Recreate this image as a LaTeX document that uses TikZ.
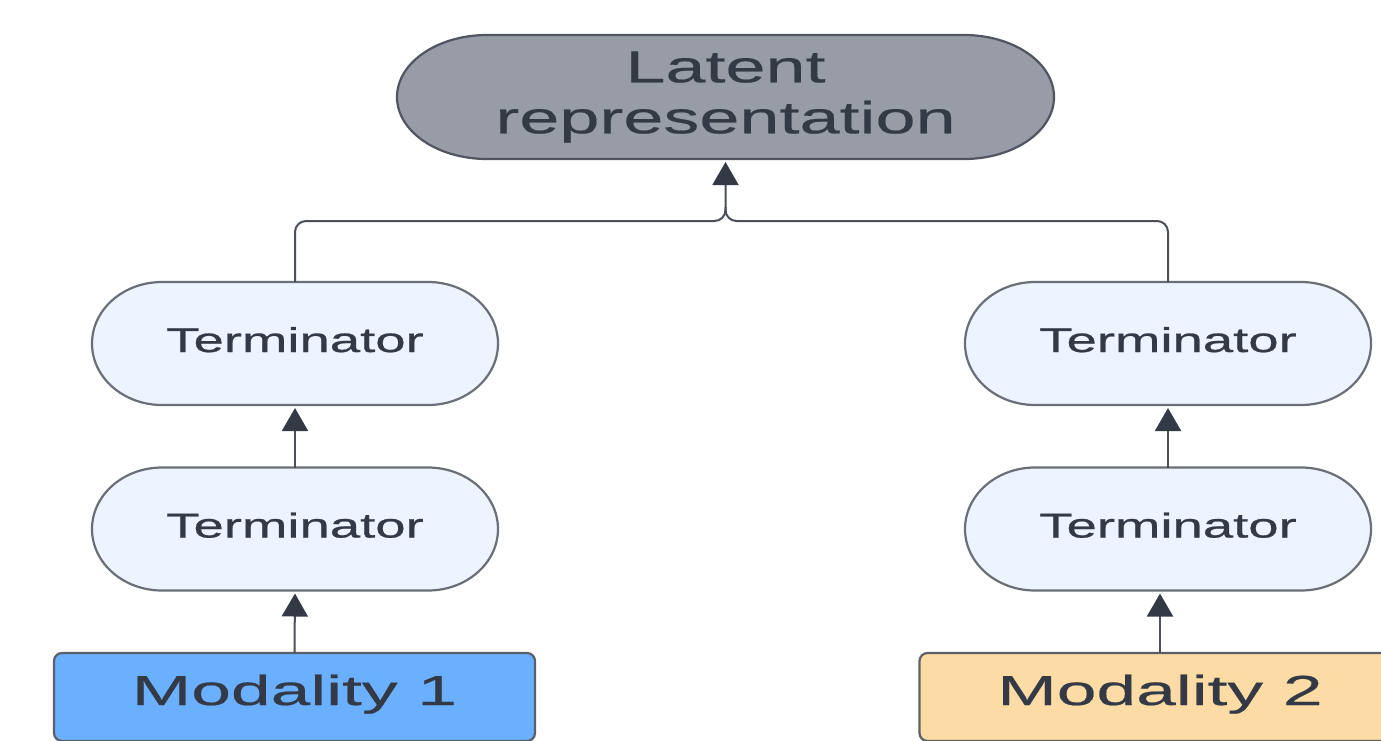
\documentclass[tikz,border=0pt]{standalone}
\usepackage{fontspec}
\setmainfont{Liberation Sans}
\newfontfamily\latfont[FakeStretch=1.6,FakeBold=0.4]{Liberation Sans}
\newfontfamily\termfont[FakeStretch=1.58,FakeBold=0.7]{Liberation Sans}
\newfontfamily\modfont[FakeStretch=1.7,FakeBold=0.5]{Liberation Sans}
\usetikzlibrary{arrows.meta,backgrounds}

\definecolor{inkc}{HTML}{333A46}
\definecolor{linec}{HTML}{4A4F58}
\definecolor{latfill}{HTML}{979CA6}
\definecolor{latdraw}{HTML}{50555F}
\definecolor{termfill}{HTML}{EDF4FF}
\definecolor{termdraw}{HTML}{6A6E76}
\definecolor{modAfill}{HTML}{6BB0FF}
\definecolor{modBfill}{HTML}{FDDBA5}
\definecolor{moddraw}{HTML}{5A5F68}

% pill outline behind a node: name, end x-radius, end y-radius, style
\newcommand\pillbehind[4]{%
  \begin{pgfonlayer}{background}
    \draw[#4] ([xshift=#2]#1.north west) -- ([xshift=-#2]#1.north east)
      arc[start angle=90, end angle=-90, x radius=#2, y radius=#3]
      -- ([xshift=#2]#1.south west)
      arc[start angle=270, end angle=90, x radius=#2, y radius=#3] -- cycle;
  \end{pgfonlayer}}

\tikzset{
  box/.style={inner sep=0pt, outer sep=0pt, text=inkc},
  latbox/.style={box, minimum width=657pt, minimum height=124pt,
    align=center, font=\latfont\fontsize{45}{51}\selectfont},
  termbox/.style={box, minimum width=406pt, minimum height=123pt,
    text height=25pt, text depth=8pt, font=\termfont\fontsize{34.5}{40}\selectfont},
  modbox/.style={box, draw=moddraw, line width=2.2pt, rounded corners=8pt,
    minimum width=481pt, minimum height=88pt,
    text height=31pt, text depth=15pt, font=\modfont\fontsize{42}{48}\selectfont},
  latpill/.style={fill=latfill, draw=latdraw, line width=2.2pt},
  termpill/.style={fill=termfill, draw=termdraw, line width=2.2pt},
  conn/.style={draw=linec, line width=2pt},
  arr/.style={conn, -{Triangle[width=26pt,length=23pt,color=inkc]}, shorten >=3pt},
}

\begin{document}
\begin{tikzpicture}[x=1pt, y=1pt]
  \useasboundingbox (0,0) rectangle (1381,-740);

  % top target
  \node[latbox] (lat) at (725.5,-97) {Latent\\representation};
  \pillbehind{lat}{90pt}{62pt}{latpill}

  % left branch
  \node[termbox] (t1l) at (295,-343.5) {Terminator};
  \node[termbox] (t2l) at (295,-529) {Terminator};
  \pillbehind{t1l}{70pt}{61.5pt}{termpill}
  \pillbehind{t2l}{70pt}{61.5pt}{termpill}
  \node[modbox, fill=modAfill] (mod1) at (294.5,-697) {Modality 1};

  % right branch
  \node[termbox] (t1r) at (1168,-343.5) {Terminator};
  \node[termbox] (t2r) at (1168,-529) {Terminator};
  \pillbehind{t1r}{70pt}{61.5pt}{termpill}
  \pillbehind{t2r}{70pt}{61.5pt}{termpill}
  \node[modbox, fill=modBfill] (mod2) at (1160,-697) {Modality 2};

  % connectors
  \draw[arr] (mod1.north) -- (t2l.south);
  \draw[arr] (t2l.north) -- (t1l.south);
  \draw[arr] (mod2.north) -- (mod2.north |- t2r.south);
  \draw[arr] (t2r.north) -- (t1r.south);

  \coordinate (j) at (725.5,-221);
  \draw[conn, rounded corners=11pt] (t1r.north) |- (j) -- ([yshift=14pt]j);
  \draw[arr, rounded corners=11pt] (t1l.north) |- (j) -- (lat.south);
\end{tikzpicture}
\end{document}
